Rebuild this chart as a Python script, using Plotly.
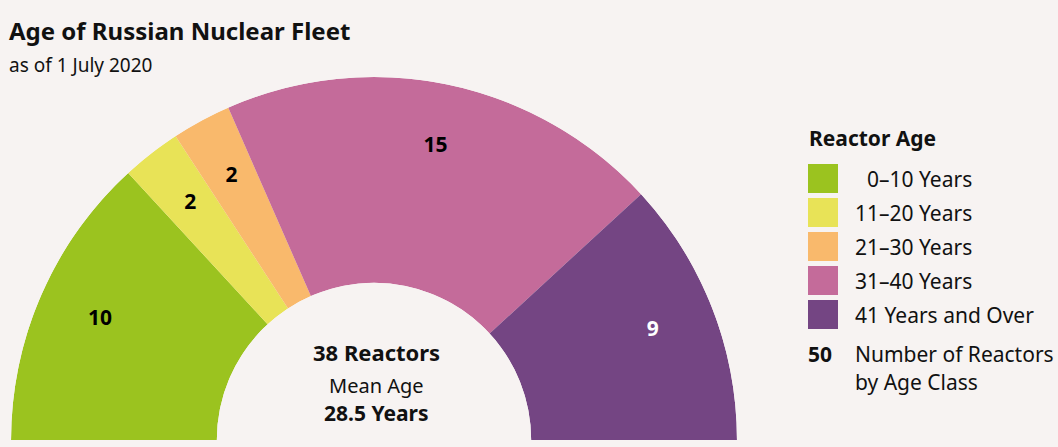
"""
Half-donut of the Russian reactor fleet by age class.
"""

import plotly.graph_objects as go

# data
age_classes = ["0–10 Years", "11–20 Years", "21–30 Years", "31–40 Years", "41 Years and Over"]
reactor_counts = [10, 2, 2, 15, 9]
mean_age = 28.5

COLORS = ["#9BC31F", "#E8E357", "#F9B96C", "#C46B9A", "#744583"]
LABEL_COLORS = ["#000000", "#000000", "#000000", "#000000", "#FFFFFF"]
BG = "#F7F3F2"
FONT = "Noto Sans, Lato, Arial, sans-serif"

total = sum(reactor_counts)
widths = [v * 180 / total for v in reactor_counts]
centers = []
acc = 0
for w in widths:
    centers.append(acc + w / 2)
    acc += w

fig = go.Figure()

fig.add_trace(go.Barpolar(
    r=[1] * len(reactor_counts),
    theta=centers,
    width=widths,
    marker=dict(color=COLORS, line=dict(width=0)),
    hoverinfo="skip",
    showlegend=False,
))

# count labels inside the slices
fig.add_trace(go.Scatterpolar(
    r=[0.69] * len(reactor_counts),
    theta=centers,
    mode="text",
    text=[str(v) for v in reactor_counts],
    textfont=dict(family=FONT, size=21, color=LABEL_COLORS, weight="bold"),
    hoverinfo="skip",
    showlegend=False,
))

fig.update_layout(
    polar=dict(
        domain=dict(x=[0.0104, 0.6966], y=[0.0157, 0.8277]),
        sector=[0, 180],
        hole=0.433,
        bgcolor="rgba(0,0,0,0)",
        radialaxis=dict(visible=False, range=[0, 1]),
        angularaxis=dict(visible=False, rotation=180, direction="clockwise"),
    ),
    width=1058,
    height=447,
    margin=dict(l=0, r=0, t=0, b=0),
    paper_bgcolor=BG,
    plot_bgcolor=BG,
    font=dict(family=FONT, color="#111111"),
)


def px_x(x):
    return x / 1058


def px_y(y):
    return 1 - y / 447


def text(x, y, s, size, bold=False, xanchor="left", color="#111111"):
    fig.add_annotation(
        x=px_x(x), y=px_y(y), xref="paper", yref="paper",
        text=f"<b>{s}</b>" if bold else s,
        showarrow=False, xanchor=xanchor, yanchor="middle",
        borderpad=0,
        font=dict(family=FONT, size=size, color=color),
    )


# titles
text(8, 30, "Age of Russian Nuclear Fleet", 24, bold=True)
text(8, 65, "as of 1 July 2020", 19)

# centre of the donut
text(376, 352, f"{total} Reactors", 22, bold=True, xanchor="center")
text(376, 385, "Mean Age", 20, xanchor="center")
text(376, 413, f"{mean_age} Years", 21, bold=True, xanchor="center")

# legend
text(808, 138, "Reactor Age", 21, bold=True)
for i, (name, color) in enumerate(zip(age_classes, COLORS)):
    yc = 178.5 + i * 34
    fig.add_shape(
        type="rect", xref="paper", yref="paper",
        x0=px_x(808), x1=px_x(838), y0=px_y(yc - 14.5), y1=px_y(yc + 14.5),
        fillcolor=color, line=dict(width=0),
    )
    label = name if not name.startswith("0") else "\u2007" + name
    text(854, yc, label, 21)

text(807, 354, "50", 21, bold=True)
text(854, 354, "Number of Reactors", 21)
text(854, 382, "by Age Class", 21)

fig.write_html(
    "out.html",
    config={"displayModeBar": False},
    post_script="document.body.style.margin='0';",
)
